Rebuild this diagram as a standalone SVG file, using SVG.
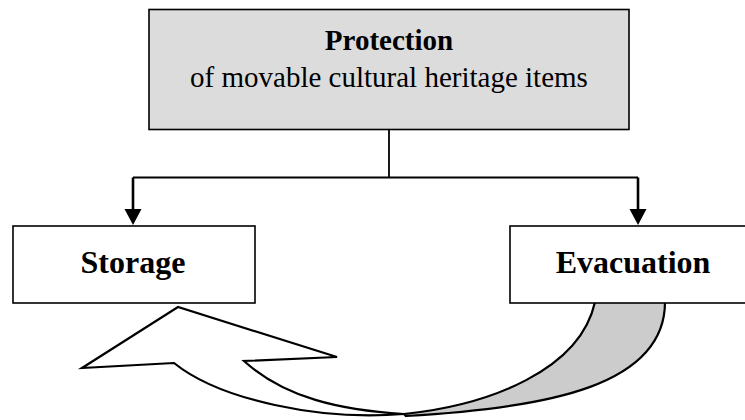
<svg xmlns="http://www.w3.org/2000/svg" width="745" height="420" viewBox="0 0 745 420">
  <style>
    .box { stroke: #000; stroke-width: 1.6; }
    .bold { font-family: "Liberation Serif", "DejaVu Serif", serif; font-weight: bold; fill: #000; text-anchor: middle; }
    .reg { font-family: "Liberation Serif", "DejaVu Serif", serif; font-weight: normal; fill: #000; text-anchor: middle; }
    .thin { stroke: #000; stroke-width: 1.8; fill: none; }
    .thick { stroke: #000; stroke-width: 2.6; fill: none; }
    .shape { stroke: #000; stroke-width: 2.2; stroke-linejoin: miter; }
  </style>
  <rect width="745" height="420" fill="#fff"/>

  <g id="return-arrow">
    <path class="shape" fill="#cccccc" d="M595,302 C580,370 490,405 404,414 L406,416 C550,408 665,385 665,302 Z"/>
    <path class="shape" fill="#fff" d="M174,363 L82,368 L178,307 L337,357 L244,361 C285,398 340,410 404,414 C320,421 220,400 174,363 Z"/>
  </g>

  <g id="connectors">
    <line class="thin" x1="389" y1="129" x2="389" y2="177.5"/>
    <line class="thin" x1="133" y1="177.5" x2="638" y2="177.5"/>
    <path class="thick" d="M133,177.5 V209"/>
    <path class="thick" d="M638,177.5 V209"/>
    <path d="M124.5,209 L141.5,209 L133,225 Z" fill="#000"/>
    <path d="M629.5,209 L646.5,209 L638,225 Z" fill="#000"/>
  </g>

  <g id="node-protection">
    <rect class="box" x="149" y="9.5" width="480" height="120" fill="#dcdcdc"/>
    <text class="bold" x="389" y="50" font-size="29">Protection</text>
    <text class="reg" x="389" y="87" font-size="29">of movable cultural heritage items</text>
  </g>

  <g id="node-storage">
    <rect class="box" x="13" y="226" width="242" height="77" fill="#fff"/>
    <text class="bold" x="133" y="273" font-size="32">Storage</text>
  </g>

  <g id="node-evacuation">
    <rect class="box" x="510" y="226" width="246" height="77" fill="#fff"/>
    <text class="bold" x="633" y="273" font-size="32">Evacuation</text>
  </g>
</svg>
